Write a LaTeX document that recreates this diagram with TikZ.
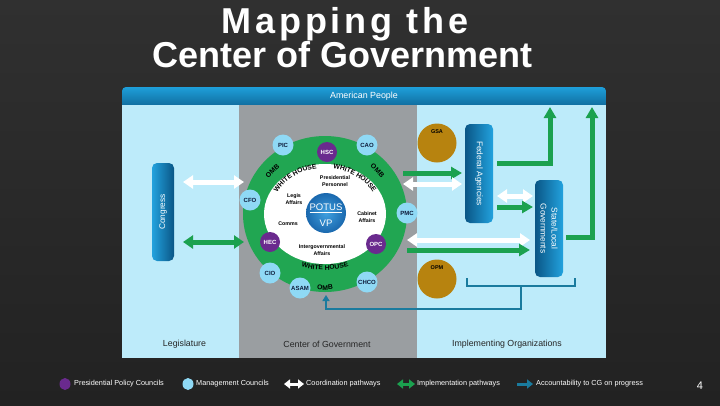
\documentclass[tikz,border=0pt]{standalone}
\usepackage{fontspec}
\setmainfont{Liberation Sans}
\usetikzlibrary{arrows.meta,decorations.text,calc,shapes.geometric}
\definecolor{bgtop}{HTML}{303030}
\definecolor{bgbot}{HTML}{222222}
\definecolor{panelblue}{HTML}{BDEBFA}
\definecolor{bandgray}{HTML}{9A9EA1}
\definecolor{ringgreen}{HTML}{21A652}
\definecolor{arrowgreen}{HTML}{1BA14F}
\definecolor{mgmtblue}{HTML}{8FD9F5}
\definecolor{policypurple}{HTML}{6A2A8E}
\definecolor{boxdark}{HTML}{0A5686}
\definecolor{boxlight}{HTML}{22A2DE}
\definecolor{barlight}{HTML}{1E9FDA}
\definecolor{bardark}{HTML}{0B5C8A}
\definecolor{agencybrown}{HTML}{B7830F}
\definecolor{acctblue}{HTML}{1A7B9E}
\definecolor{labeltext}{HTML}{0D1B3A}
\definecolor{potuslight}{HTML}{3FA0DF}
\definecolor{potusdark}{HTML}{1A68AE}
\newcommand\ringfont{\fontsize{6.8}{6.8}\selectfont\bfseries}
\begin{document}
\begin{tikzpicture}[x=1pt,y=-1pt,
  mgmtc/.style={circle, fill=mgmtblue, minimum size=21pt, inner sep=0pt, text=labeltext, font=\fontsize{6}{6}\selectfont\bfseries},
  policyc/.style={circle, fill=policypurple, minimum size=20pt, inner sep=0pt, text=white, font=\fontsize{6}{6}\selectfont\bfseries},
  innerlbl/.style={align=center, font=\fontsize{5.3}{6.5}\selectfont\bfseries, text=black, inner sep=0pt},
  agencyc/.style={circle, fill=agencybrown, minimum size=39pt, inner sep=0pt},
  agencylbl/.style={font=\fontsize{5.5}{5.5}\selectfont\bfseries, text=black, inner sep=0pt},
  bluebox/.style={rounded corners=5pt, inner sep=0pt},
  boxlbl/.style={text=white, font=\fontsize{8.3}{11}\selectfont, align=center, inner sep=0pt},
  sectionlbl/.style={text=black!85, font=\fontsize{8.8}{8.8}\selectfont, inner sep=0pt},
  legendlbl/.style={text=white, font=\fontsize{7.3}{7.3}\selectfont, anchor=west, inner sep=0pt},
  whitedbl/.style={draw=white, line width=5pt, {Triangle[width=13pt,length=10pt]}-{Triangle[width=13pt,length=10pt]}},
  greendbl/.style={draw=arrowgreen, line width=5pt, {Triangle[width=13pt,length=10pt]}-{Triangle[width=13pt,length=10pt]}},
  greenone/.style={draw=arrowgreen, line width=5pt, -{Triangle[width=12pt,length=11pt]}},
  acctline/.style={draw=acctblue, line width=2.5pt},
  ringtext/.style={decorate, decoration={text along path, text align=center, text={|\ringfont|#1}}}
]
% background
\shade[top color=bgtop, bottom color=bgbot] (0,0) rectangle (720,405);
\useasboundingbox (0,0) rectangle (720,405);

% title
\node[text=white, anchor=base, font=\fontsize{36}{36}\selectfont\bfseries\addfontfeature{LetterSpace=11}] (title1) at (345,33) {Mapping the};
\node[text=white, anchor=base, font=\fontsize{36}{36}\selectfont\bfseries] (title2) at (342.5,67) {Center of Government};

% panel
\shade[top color=barlight, bottom color=bardark, rounded corners=4pt] (122,87) rectangle (606,112);
\fill[panelblue] (122,105) rectangle (606,358);
\fill[bandgray] (239,105) rectangle (417,358);
\node[text=white, font=\fontsize{8.9}{8.9}\selectfont, inner sep=0pt] (people) at (364,96) {American People};

% side boxes
\node[bluebox, minimum width=22pt, minimum height=98pt, left color=boxlight, right color=boxdark] (congress) at (163,212) {};
\node[boxlbl, rotate=90] (congresslbl) at (congress.center) {Congress};
\node[bluebox, minimum width=28pt, minimum height=99pt, left color=boxdark, right color=boxlight] (fedag) at (479,173.5) {};
\node[boxlbl, rotate=-90] (fedaglbl) at (fedag.center) {Federal Agencies};
\node[bluebox, minimum width=28pt, minimum height=97pt, left color=boxdark, right color=boxlight] (stateloc) at (549,228.5) {};
\node[boxlbl, rotate=-90] (statelocl) at (stateloc.center) {State/Local\\Governments};

% agencies
\node[agencyc] (gsa) at (437,143) {};
\node[agencylbl] (gsalbl) at (437,132) {GSA};
\node[agencyc] (opm) at (437,279) {};
\node[agencylbl] (opmlbl) at (437,268) {OPM};

% ring
\coordinate (cg) at (325,214);
\fill[ringgreen] (cg) ellipse [x radius=82, y radius=78];
\fill[white] (cg) ellipse [x radius=61, y radius=50];

\path[ringtext={WHITE HOUSE}] ($(cg)+(-160:54 and 46)$) arc[start angle=-160, end angle=-92, x radius=54, y radius=46];
\path[ringtext={WHITE HOUSE}] ($(cg)+(-88:54 and 46)$) arc[start angle=-88, end angle=-20, x radius=54, y radius=46];
\path[ringtext={WHITE HOUSE}] ($(cg)+(124:67 and 56)$) arc[start angle=124, end angle=56, x radius=67, y radius=56];
\path[ringtext={OMB}] ($(cg)+(-157:69 and 62)$) arc[start angle=-157, end angle=-119, x radius=69, y radius=62];
\path[ringtext={OMB}] ($(cg)+(-61:69 and 62)$) arc[start angle=-61, end angle=-23, x radius=69, y radius=62];
\path[ringtext={OMB}] ($(cg)+(106:78 and 76)$) arc[start angle=106, end angle=74, x radius=78, y radius=76];

% inner labels
\node[innerlbl] (pp) at (335,181) {Presidential\\Personnel};
\node[innerlbl] (legis) at (294,199) {Legis\\Affairs};
\node[innerlbl] (comms) at (288,224) {Comms};
\node[innerlbl] (cabinet) at (367,217) {Cabinet\\Affairs};
\node[innerlbl] (intergov) at (322,250) {Intergovernmental\\Affairs};

% POTUS
\node[circle, minimum size=40pt, inner sep=0pt, inner color=potuslight, outer color=potusdark] (potusc) at (326,213) {};
\node[text=white, font=\fontsize{9.5}{9.5}\selectfont, inner sep=0pt] (potus) at (326,208) {\underline{POTUS}};
\node[text=white, font=\fontsize{9.5}{9.5}\selectfont, inner sep=0pt] (vp) at (326,223) {VP};

% councils
\node[mgmtc] (pic) at (283,145) {PIC};
\node[policyc] (hsc) at (327,152) {HSC};
\node[mgmtc] (cao) at (367,145) {CAO};
\node[mgmtc] (cfo) at (250,200) {CFO};
\node[mgmtc] (pmc) at (407,213) {PMC};
\node[policyc] (hec) at (270,242) {HEC};
\node[policyc] (opc) at (376,244) {OPC};
\node[mgmtc] (cio) at (270,273) {CIO};
\node[mgmtc] (asam) at (300,288) {ASAM};
\node[mgmtc] (chco) at (367,282) {CHCO};

% arrow end points
\coordinate (lwa) at (183,182); \coordinate (lwb) at (244,182);
\coordinate (lga) at (183,242); \coordinate (lgb) at (244,242);
\coordinate (fga) at (403,173); \coordinate (fgb) at (462,173);
\coordinate (fwa) at (403,184); \coordinate (fwb) at (462,184);
\coordinate (mwa) at (497,196); \coordinate (mwb) at (533,196);
\coordinate (mga) at (497,207); \coordinate (mgb) at (533,207);
\coordinate (swa) at (407,240); \coordinate (swb) at (530,240);
\coordinate (sga) at (407,250); \coordinate (sgb) at (530,250);
\coordinate (upa) at (497,163); \coordinate (upatip) at (550,107);
\coordinate (upb) at (566,237); \coordinate (upbtip) at (592,107);

\draw[whitedbl] (lwa) -- (lwb);
\draw[greendbl] (lga) -- (lgb);
\draw[greenone] (fga) -- (fgb);
\draw[whitedbl] (fwa) -- (fwb);
\draw[whitedbl] (mwa) -- (mwb);
\draw[greenone] (mga) -- (mgb);
\draw[whitedbl] (swa) -- (swb);
\draw[greenone] (sga) -- (sgb);
\draw[greenone] (upa) -| (upatip);
\draw[greenone] (upb) -| (upbtip);

% accountability
\coordinate (bra) at (467,278); \coordinate (brb) at (575,278);
\coordinate (brmid) at (521,286); \coordinate (ombtip) at (326,295);
\draw[acctline] (bra) -- (467,286) -- (575,286) -- (brb);
\draw[acctline, -{Triangle[width=7pt,length=6pt]}] (brmid) -- (521,309) -| (ombtip);

% section labels
\node[sectionlbl] (leg) at (184.5,344) {Legislature};
\node[sectionlbl] (cog) at (327,344) {Center of Government};
\node[sectionlbl] (impl) at (507,344) {Implementing Organizations};

% legend
\fill[policypurple] (65,384) ellipse [x radius=5.5, y radius=6];
\node[legendlbl] (lg1) at (74,384) {Presidential Policy Councils};
\fill[mgmtblue] (188,384) ellipse [x radius=5.5, y radius=6];
\node[legendlbl] (lg2) at (196,384) {Management Councils};
\coordinate (lgwa) at (284,384); \coordinate (lgwb) at (304,384);
\draw[draw=white, line width=3pt, {Triangle[width=9pt,length=6pt]}-{Triangle[width=9pt,length=6pt]}] (lgwa) -- (lgwb);
\node[legendlbl] (lg3) at (306,384) {Coordination pathways};
\coordinate (lgga) at (397,384); \coordinate (lggb) at (415,384);
\draw[draw=arrowgreen, line width=3pt, {Triangle[width=9pt,length=6pt]}-{Triangle[width=9pt,length=6pt]}] (lgga) -- (lggb);
\node[legendlbl] (lg4) at (417,384) {Implementation pathways};
\coordinate (lgba) at (517,384); \coordinate (lgbb) at (533,384);
\draw[draw=acctblue, line width=3pt, -{Triangle[width=9pt,length=6pt]}] (lgba) -- (lgbb);
\node[legendlbl] (lg5) at (536,384) {Accountability to CG on progress};
\node[text=white, font=\fontsize{11}{11}\selectfont, inner sep=0pt] (pagenum) at (700,386) {4};
\end{tikzpicture}
\end{document}
